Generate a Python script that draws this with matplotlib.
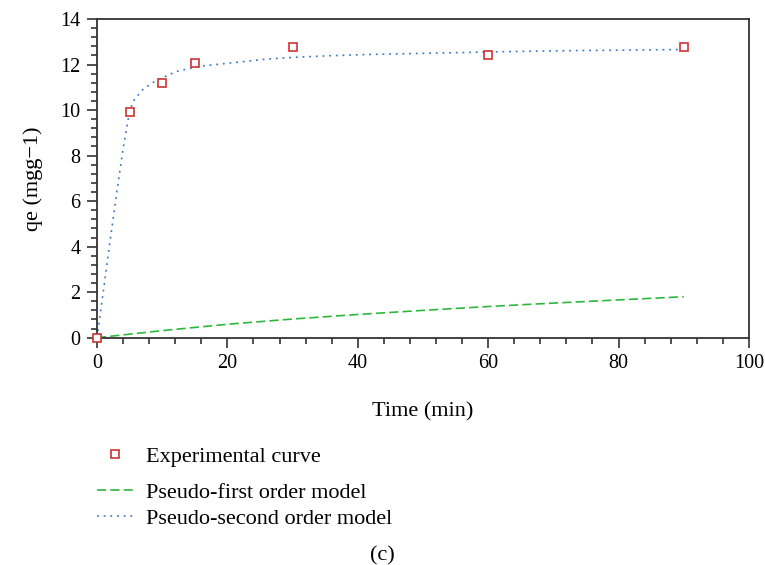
import matplotlib
matplotlib.use("Agg")
import matplotlib.pyplot as plt
from matplotlib.ticker import MultipleLocator

plt.rcParams['font.family'] = ['Liberation Serif', 'DejaVu Serif']

# Experimental adsorption data
time_exp = [0, 5, 10, 15, 30, 60, 90]
qe_exp = [0, 9.9, 11.2, 12.05, 12.75, 12.4, 12.75]

# Pseudo-first order model curve
time_pfo = [0, 10, 20, 30, 40, 50, 60, 70, 80, 90]
qe_pfo = [0, 0.31, 0.59, 0.82, 1.02, 1.2, 1.37, 1.52, 1.66, 1.8]

# Pseudo-second order model curve
time_pso = [0, 1, 2, 3, 4, 5, 5.6, 6.9, 8.5, 10.3, 12.1, 14.1, 16.3,
            20.9, 26, 31.1, 36.2, 41.4, 46.5, 51.6, 56.7, 61.8, 70, 80, 90]
qe_pso = [0, 2.1, 4.25, 6.3, 8.3, 9.95, 10.4, 10.87, 11.2, 11.45, 11.69, 11.82, 11.94,
          12.08, 12.24, 12.33, 12.39, 12.44, 12.47, 12.5, 12.53, 12.56, 12.6, 12.63, 12.66]

x_ticks = [0, 20, 40, 60, 80, 100]
y_ticks = [0, 2, 4, 6, 8, 10, 12, 14]

red = '#cc3333'
green = '#2db83d'
blue = '#3a78c8'
spine_col = '#333333'

fig = plt.figure(figsize=(7.65, 5.65), dpi=100)
ax = fig.add_axes([0.1268, 0.4023, 0.979 - 0.1268, 0.9664 - 0.4023])

exp_h, = ax.plot(time_exp, qe_exp, linestyle='none', marker='s', markersize=6,
                 markerfacecolor='white', markeredgecolor=red, markeredgewidth=1.2,
                 zorder=5, clip_on=False, label='Experimental curve')
pfo_h, = ax.plot(time_pfo, qe_pfo, color=green, linewidth=1.2,
                 linestyle=(0, (5.5, 2.5)), label='Pseudo-first order model')
pso_h, = ax.plot(time_pso, qe_pso, color=blue, linewidth=1.2,
                 linestyle=(0, (1.1, 2.9)), label='Pseudo-second order model')

ax.set_xlim(0, 100)
ax.set_ylim(0, 14)
ax.set_xticks(x_ticks)
ax.set_yticks(y_ticks)
ax.xaxis.set_minor_locator(MultipleLocator(4))
ax.yaxis.set_minor_locator(MultipleLocator(0.4))
ax.tick_params(which='both', direction='out', top=False, right=False,
               color=spine_col, width=1.2, labelsize=14.5)
ax.tick_params(which='major', length=7, pad=5)
ax.tick_params(which='minor', length=4.5)
for s in ax.spines.values():
    s.set_color(spine_col)
    s.set_linewidth(1.3)

ax.set_xlabel('Time (min)', fontsize=16, labelpad=21)
ax.set_ylabel('qe (mgg\u22121)', fontsize=16, labelpad=12)

leg_kw = dict(loc='upper left', frameon=False, fontsize=16, handlelength=1.6,
              handletextpad=0.6, borderaxespad=0, borderpad=0)
fig.legend(handles=[exp_h], bbox_to_anchor=(0.1268, 0.2106), **leg_kw)
fig.legend(handles=[pfo_h, pso_h], bbox_to_anchor=(0.1268, 0.1460),
           labelspacing=0.25, **leg_kw)

fig.text(0.5, 0.017, '(c)', ha='center', va='center', fontsize=16)

fig.savefig('out.png', dpi=100)
